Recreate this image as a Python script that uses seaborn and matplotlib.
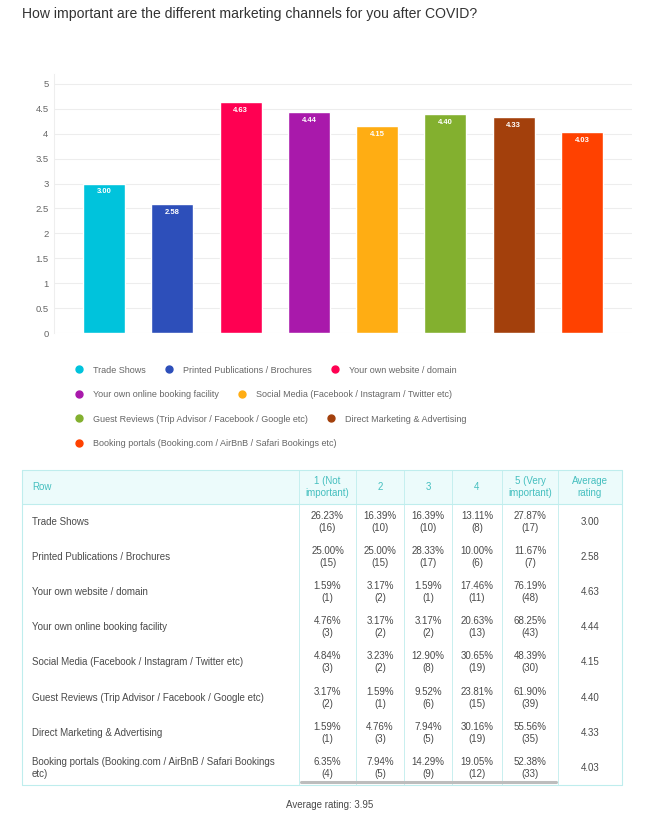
import numpy as np
import matplotlib
matplotlib.use("Agg")
import matplotlib.pyplot as plt
from matplotlib.lines import Line2D
from matplotlib.patches import Rectangle
import seaborn as sns

channels = ["Trade Shows", "Printed Publications / Brochures", "Your own website / domain",
            "Your own online booking facility", "Social Media (Facebook / Instagram / Twitter etc)",
            "Guest Reviews (Trip Advisor / Facebook / Google etc)", "Direct Marketing & Advertising",
            "Booking portals (Booking.com / AirBnB / Safari Bookings etc)"]
table_labels = channels[:7] + ["Booking portals (Booking.com / AirBnB / Safari Bookings\netc)"]
ratings = [3.00, 2.58, 4.63, 4.44, 4.15, 4.40, 4.33, 4.03]
colors = ["#00c3dc", "#2d4fba", "#ff0052", "#a919ab", "#ffad13", "#83b02f", "#a3400c", "#ff4100"]
scale_cols = ["1 (Not\nimportant)", "2", "3", "4", "5 (Very\nimportant)", "Average\nrating"]
pct = [[26.23, 16.39, 16.39, 13.11, 27.87],
       [25.00, 25.00, 28.33, 10.00, 11.67],
       [1.59, 3.17, 1.59, 17.46, 76.19],
       [4.76, 3.17, 3.17, 20.63, 68.25],
       [4.84, 3.23, 12.90, 30.65, 48.39],
       [3.17, 1.59, 9.52, 23.81, 61.90],
       [1.59, 4.76, 7.94, 30.16, 55.56],
       [6.35, 7.94, 14.29, 19.05, 52.38]]
counts = [[16, 10, 10, 8, 17],
          [15, 15, 17, 6, 7],
          [1, 2, 1, 11, 48],
          [3, 2, 2, 13, 43],
          [3, 2, 8, 19, 30],
          [2, 1, 6, 15, 39],
          [1, 3, 5, 19, 35],
          [4, 5, 9, 12, 33]]
overall = 3.95
legend_rows = [3, 2, 2, 1]

sns.set_style("white")
plt.rcParams["font.family"] = ["Liberation Sans", "DejaVu Sans"]

W, H = 650, 822
fig = plt.figure(figsize=(6.5, 8.22), dpi=100)

# bar chart
ax = fig.add_axes([54 / W, 1 - 333 / H, 578 / W, 259 / H])
sns.barplot(x=channels, y=ratings, hue=channels, palette=colors, legend=False,
            width=0.615, saturation=1, ax=ax)
ax.set_xlim(-0.732, 7.732)
ax.set_ylim(0, 5.2)
ax.set_yticks(np.arange(0, 5.01, 0.5))
ax.set_yticklabels([f"{v:g}" for v in np.arange(0, 5.01, 0.5)])
ax.set_xticks([])
ax.set_xlabel("")
ax.set_ylabel("")
ax.grid(axis="y", color="#ededed", lw=0.8)
ax.set_axisbelow(True)
ax.tick_params(axis="y", length=0, pad=4, labelsize=6.8, labelcolor="#666666")
for s in ["top", "right", "bottom"]:
    ax.spines[s].set_visible(False)
ax.spines["left"].set_color("#eeeeee")
for cont in ax.containers:
    txts = ax.bar_label(cont, fmt="%.2f", padding=-6, color="white",
                        fontsize=5.5, fontweight="bold")
    for t in txts:
        t.set_va("center")

# flow legend, one legend per row
k = 0
for r, n in enumerate(legend_rows):
    hs = [Line2D([], [], marker="o", ls="", color=colors[k + j], markersize=5) for j in range(n)]
    leg = fig.legend(hs, channels[k:k + n], ncol=n, loc="center left",
                     bbox_to_anchor=(75 / W, 1 - (370 + 24.5 * r) / H),
                     frameon=False, fontsize=6.5, handlelength=0.8, handletextpad=1.15,
                     columnspacing=2.2, borderpad=0, borderaxespad=0)
    for t in leg.get_texts():
        t.set_color("#666666")
    k += n

# overlay in pixel coordinates for title and table
ov = fig.add_axes([0, 0, 1, 1], facecolor="none")
ov.set_xlim(0, W)
ov.set_ylim(H, 0)
ov.axis("off")

ov.text(22, 14, "How important are the different marketing channels for you after COVID?",
        fontsize=10.1, color="#333333", va="center", ha="left")

border = "#bfeded"
xs = [22, 299, 356, 404, 452, 502, 558, 622]
top, head_bot, bot = 470, 504, 785
ov.add_patch(Rectangle((xs[0], top), xs[-1] - xs[0], head_bot - top,
                       facecolor="#ecfbfb", edgecolor="none"))
ov.plot([xs[0], xs[-1]], [top, top], color=border, lw=0.8)
ov.plot([xs[0], xs[-1]], [head_bot, head_bot], color=border, lw=0.8)
ov.plot([xs[0], xs[-1]], [bot, bot], color=border, lw=0.8)
ov.plot([xs[0], xs[0]], [top, bot], color=border, lw=0.8)
ov.plot([xs[-1], xs[-1]], [top, bot], color=border, lw=0.8)
for x in xs[1:-1]:
    ov.plot([x, x], [top, bot], color=border, lw=0.6)

head_col = "#45bfbf"
txt_col = "#4a4a4a"
ov.text(32, 487, "Row", fontsize=7, color=head_col, va="center", ha="left")
for j, lab in enumerate(scale_cols):
    ov.text((xs[j + 1] + xs[j + 2]) / 2, 487, lab, fontsize=7, color=head_col,
            va="center", ha="center", linespacing=1.25)

for i, lab in enumerate(table_labels):
    yc = 522 + 35.1 * i
    ov.text(32, yc, lab, fontsize=7, color=txt_col, va="center", ha="left", linespacing=1.25)
    for j in range(5):
        ov.text((xs[j + 1] + xs[j + 2]) / 2, yc, f"{pct[i][j]:.2f}%\n({counts[i][j]})",
                fontsize=7, color=txt_col, va="center", ha="center", linespacing=1.25)
    ov.text((xs[6] + xs[7]) / 2, yc, f"{ratings[i]:.2f}", fontsize=7, color=txt_col,
            va="center", ha="center")

# scrollbar
ov.plot([301, 556], [782, 782], color="#bdbdbd", lw=2.2, solid_capstyle="round")

ov.text(330, 805, f"Average rating: {overall:.2f}", fontsize=7, color=txt_col,
        va="center", ha="center")

fig.savefig("out.png", dpi=100, facecolor="white")
